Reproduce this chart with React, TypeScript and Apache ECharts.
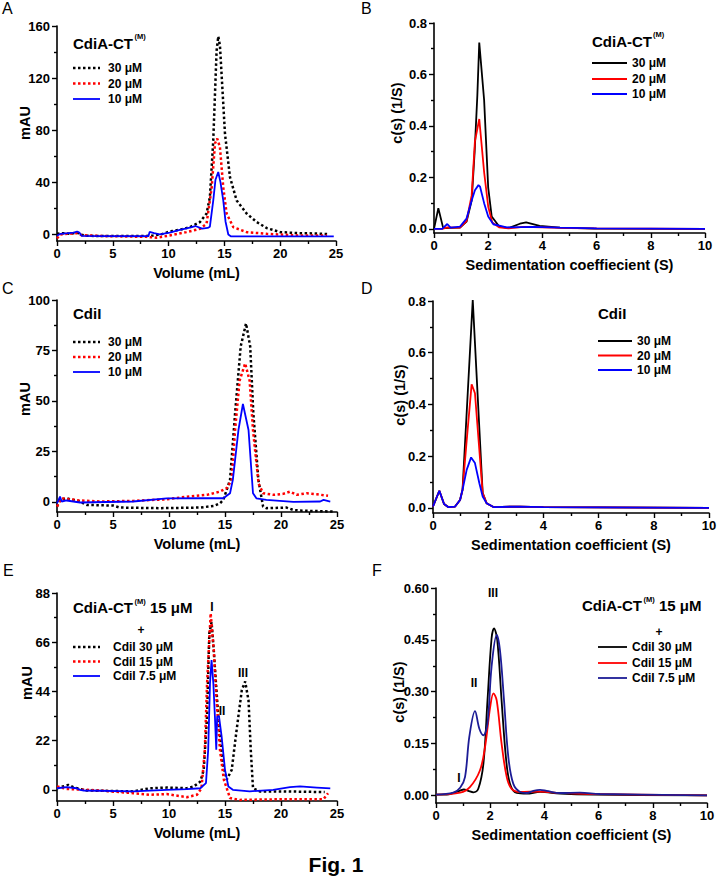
import React, { useEffect, useRef } from "react";
import * as echarts from "echarts";

const FONT = "'Liberation Sans', Arial, Helvetica, sans-serif";

// ---------------- tick values ----------------
const aYTicks = [0, 40, 80, 120, 160];
const aYMinor = [20, 60, 100, 140];
const bYTicks = [0, 0.2, 0.4, 0.6, 0.8];
const bYMinor = [0.1, 0.3, 0.5, 0.7];
const cYTicks = [0, 25, 50, 75, 100];
const cYMinor = [12.5, 37.5, 62.5, 87.5];
const dYTicks = [0, 0.2, 0.4, 0.6, 0.8];
const dYMinor = [0.1, 0.3, 0.5, 0.7];
const eYTicks = [0, 22, 44, 66, 88];
const eYMinor = [11, 33, 55, 77];
const fYTicks = [0, 0.15, 0.3, 0.45, 0.6];
const fYMinor = [0.075, 0.225, 0.375, 0.525];

// ---------------- legend labels ----------------
const concLabels = ["30 μM", "20 μM", "10 μM"];
const mixLabels = ["CdiI 30 μM", "CdiI 15 μM", "CdiI 7.5 μM"];

// ---------------- Panel A : SEC CdiA-CT(M) (volume mL, mAU) ----------------
const a30 = [[0,0.5],[0.6,1],[1.2,0.5],[1.8,1.5],[2.1,0],[2.6,-1],[4,-1.2],[6,-1.2],[8,-1.2],[8.6,-0.8],[9.3,0],[10.1,2.3],[11,3.6],[11.9,5.6],[12.8,9.5],[13.4,16],[13.7,28.7],[14.0,72],[14.3,141],[14.45,152],[14.6,145],[14.76,121],[15.05,77.5],[15.5,44],[16.1,26],[17.0,16],[17.9,9.5],[18.8,4.9],[20,1.8],[21.8,1],[23,0.8],[24.3,0.3]];
const a20 = [[0,-3],[0.3,0],[1,0.5],[1.8,1],[2.2,-0.5],[4,-1.2],[6,-1.5],[8,-1.8],[8.9,-2.5],[10.1,-0.8],[11.6,1.8],[12.8,4.3],[13.4,8.2],[13.86,36],[14.16,70],[14.36,73.6],[14.6,67],[14.9,36],[15.2,16],[15.8,5.6],[17,1.8],[18.8,0.5],[20,0],[21.8,-0.8],[24.2,-0.8]];
const a10 = [[0,-1],[0.3,0.5],[1,1],[1.5,1.5],[1.8,2.3],[2.0,1.5],[2.2,-1],[4,-1.2],[6,-1.3],[8.2,-1.2],[8.3,2],[8.7,1],[9.2,0],[10.1,1.5],[11,3.5],[12,5.5],[12.4,6.5],[13.0,4.5],[13.5,5],[13.7,6],[14.0,26],[14.2,42],[14.45,48],[14.65,40],[14.9,26],[15.1,10],[15.35,0],[15.6,-1.5],[20,-1.5],[24.8,-1.5]];

// ---------------- Panel B : c(s) CdiA-CT(M) ----------------
const b30 = [[0,0],[0.16,0.08],[0.34,0.003],[0.6,0.004],[0.96,0.005],[1.2,0.028],[1.39,0.11],[1.5,0.3],[1.6,0.52],[1.67,0.724],[1.85,0.5],[2.0,0.16],[2.13,0.048],[2.4,0.01],[2.75,0.003],[3.17,0.02],[3.4,0.025],[3.9,0.012],[4.65,0.005],[5.9,0.001],[10,0]];
const b20 = [[0,0],[0.3,0],[0.5,0.006],[0.96,0.005],[1.2,0.03],[1.39,0.13],[1.51,0.34],[1.67,0.427],[1.85,0.22],[2.0,0.087],[2.15,0.025],[2.4,0.006],[2.75,0.002],[3.3,0.008],[4,0.006],[5,0.003],[6,0.002],[10,0]];
const b10 = [[0,0],[0.3,0],[0.49,0.019],[0.61,0.005],[0.96,0.009],[1.2,0.04],[1.39,0.11],[1.51,0.15],[1.64,0.17],[1.7,0.164],[1.85,0.1],[2.0,0.048],[2.19,0.018],[2.68,0.006],[3.67,0.008],[4.65,0.005],[6,0.002],[10,0]];

// ---------------- Panel C : SEC CdiI ----------------
const c30 = [[0,-2.3],[0.27,1],[0.86,1.8],[2,0.2],[2.65,-1.5],[5,-1.8],[5.6,-2.8],[9.2,-3.1],[12.8,-2.8],[14,-2],[14.55,-0.7],[14.85,1],[15.45,10.9],[15.9,43.9],[16.4,77],[16.88,88.4],[17.25,77],[17.53,43.9],[17.98,10.9],[18.4,-2.3],[18.7,-3.1],[20.5,-2.8],[21.1,-4],[21.7,-4.3],[24.7,-4.8]];
const c20 = [[0,-2.3],[0.42,1.8],[0.86,1.5],[2.05,0.7],[3.84,0.2],[6.8,0.5],[9.8,1.3],[11.6,2.6],[13.4,3.5],[14.55,5.1],[15.15,6.8],[15.6,10.9],[15.9,35.6],[16.3,60],[16.8,68.6],[17.2,60],[17.5,35.6],[18,9],[18.4,4.3],[19.3,3.5],[20.2,4],[20.8,5.1],[21.4,3.5],[22.3,4.3],[23.2,3.8],[24.2,3]];
const c10 = [[0,-0.7],[0.27,2.6],[0.42,0.2],[0.86,0.7],[2.05,-0.3],[6.8,0.2],[9.8,1.7],[12.8,1.8],[14.85,1.8],[15.45,4.3],[15.7,10.9],[16.2,35.6],[16.6,48.5],[17.1,35.6],[17.5,4.3],[17.8,1.8],[18.7,1],[21.1,0],[23.5,0.2],[23.8,1],[24.4,0.2]];

// ---------------- Panel D : c(s) CdiI ----------------
const d30 = [[0,0.005],[0.23,0.066],[0.4,0.015],[0.55,0.003],[0.8,0.005],[0.98,0.03],[1.07,0.07],[1.44,0.804],[1.8,0.057],[1.94,0.018],[2.19,0.003],[3.15,0.005],[4,0.003],[10,0]];
const d20 = [[0,0.005],[0.23,0.066],[0.4,0.015],[0.55,0.003],[0.8,0.005],[0.98,0.03],[1.07,0.07],[1.22,0.26],[1.4,0.478],[1.52,0.443],[1.8,0.057],[1.94,0.018],[2.19,0.003],[3.15,0.005],[4,0.003],[10,0]];
const d10 = [[0,0.005],[0.23,0.066],[0.4,0.015],[0.55,0.003],[0.8,0.005],[0.98,0.03],[1.07,0.07],[1.22,0.147],[1.38,0.195],[1.52,0.173],[1.68,0.095],[1.8,0.044],[1.94,0.018],[2.19,0.003],[3.15,0.005],[4,0.003],[10,0]];

// ---------------- Panel E : SEC CdiA-CT(M) 15 µM + CdiI ----------------
const e30 = [[0,0.7],[1.0,2.2],[1.46,1.2],[2.05,0.4],[2.65,-0.3],[6.8,-0.7],[8.3,0.7],[9.8,1],[11.6,0.7],[12.2,1.5],[12.8,3.7],[13.1,8.9],[13.4,32.7],[13.6,70],[13.8,75],[14.0,62],[14.4,32.7],[14.8,11.9],[15.15,4.5],[15.6,8.9],[16.0,25.3],[16.5,44.6],[16.8,48.4],[17.1,40],[17.3,17.9],[17.5,0.7],[18.1,-0.7],[20.2,-0.7],[23.9,-1]];
const e15 = [[0,1.5],[0.86,0.4],[3.84,-0.3],[6.8,-1.5],[8.3,-2.2],[9.8,-1.9],[11.6,-3.3],[12.5,-2.2],[12.9,0.7],[13.2,17.9],[13.4,47.6],[13.72,78.9],[14.0,62.5],[14.25,40],[14.55,17.9],[14.9,4.5],[15.45,-3.7],[16.3,-4.5],[20.2,-4.2],[23.8,-4.2],[24.2,-1.5]];
const e75 = [[0,0.7],[0.86,1.2],[1.76,0.7],[2.05,0],[2.4,-0.3],[6.8,-0.7],[9.8,0],[11.6,0.3],[12.8,0.7],[13.3,3],[13.5,17.9],[13.66,47.6],[13.8,58],[13.96,47.6],[14.1,32.7],[14.22,17.9],[14.3,32.7],[14.46,33],[14.7,23.8],[15,8.9],[15.3,1.5],[15.7,0],[17.2,-0.7],[19.3,0],[20.8,1.2],[21.7,1.5],[23.2,1],[24.4,0.6]];

// ---------------- Panel F : c(s) CdiA-CT(M) 15 µM + CdiI ----------------
const f30 = [[0,0.002],[0.4,0.002],[0.64,0.007],[0.89,0.014],[1.03,0.017],[1.19,0.013],[1.38,0.009],[1.56,0.019],[1.75,0.092],[1.9,0.275],[2.05,0.454],[2.14,0.483],[2.26,0.45],[2.42,0.275],[2.58,0.11],[2.73,0.034],[2.98,0.007],[3.35,0.005],[3.84,0.01],[4.58,0.005],[5.8,0.002],[10,0]];
const f15 = [[0,0.002],[0.89,0.008],[1.25,0.024],[1.62,0.072],[1.81,0.14],[2.0,0.256],[2.12,0.295],[2.24,0.275],[2.42,0.15],[2.61,0.053],[2.79,0.019],[3.1,0.01],[3.84,0.011],[4.58,0.007],[5.8,0.004],[10,0]];
const f75 = [[0,0.002],[0.64,0.008],[0.89,0.022],[1.07,0.053],[1.23,0.17],[1.44,0.244],[1.6,0.193],[1.75,0.174],[1.9,0.208],[2.05,0.372],[2.24,0.464],[2.36,0.42],[2.51,0.275],[2.67,0.11],[2.85,0.034],[3.1,0.01],[3.35,0.007],[3.59,0.013],[3.84,0.016],[4.08,0.013],[4.58,0.007],[5.31,0.008],[6.05,0.004],[10,0]];

// ---------------- styles ----------------
const BLACK = "#000000";
const RED = "#ff0000";
const BLUE = "#0000ff";
const NAVY = "#1c1c96";
const DOT = [2.5, 2.5];

type SeriesDef = { name: string; data: number[][]; color: string; dotted: boolean };
type Panel = {
  grid: { left: number; top: number; width: number; height: number };
  xMax: number; xInterval: number; xName: string;
  yMin: number; yMax: number; yTicks: number[]; yMinor: number[]; decimals: number;
  smooth: number | boolean;
  series: SeriesDef[];
};

const panels: Panel[] = [
  {
    grid: { left: 57, top: 26, width: 279, height: 215 },
    xMax: 25, xInterval: 5, xName: "Volume (mL)",
    yMin: -5, yMax: 160, yTicks: aYTicks, yMinor: aYMinor, decimals: 0, smooth: false,
    series: [
      { name: "A 30", data: a30, color: BLACK, dotted: true },
      { name: "A 20", data: a20, color: RED, dotted: true },
      { name: "A 10", data: a10, color: BLUE, dotted: false },
    ],
  },
  {
    grid: { left: 434, top: 23, width: 271, height: 210 },
    xMax: 10, xInterval: 2, xName: "Sedimentation coeffiecient (S)",
    yMin: -0.016, yMax: 0.8, yTicks: bYTicks, yMinor: bYMinor, decimals: 1, smooth: false,
    series: [
      { name: "B 30", data: b30, color: BLACK, dotted: false },
      { name: "B 20", data: b20, color: RED, dotted: false },
      { name: "B 10", data: b10, color: BLUE, dotted: false },
    ],
  },
  {
    grid: { left: 57, top: 300, width: 280, height: 212 },
    xMax: 25, xInterval: 5, xName: "Volume (mL)",
    yMin: -5, yMax: 100, yTicks: cYTicks, yMinor: cYMinor, decimals: 0, smooth: false,
    series: [
      { name: "C 30", data: c30, color: BLACK, dotted: true },
      { name: "C 20", data: c20, color: RED, dotted: true },
      { name: "C 10", data: c10, color: BLUE, dotted: false },
    ],
  },
  {
    grid: { left: 433, top: 301, width: 276, height: 212 },
    xMax: 10, xInterval: 2, xName: "Sedimentation coefficient (S)",
    yMin: -0.02, yMax: 0.8, yTicks: dYTicks, yMinor: dYMinor, decimals: 1, smooth: false,
    series: [
      { name: "D 30", data: d30, color: BLACK, dotted: false },
      { name: "D 20", data: d20, color: RED, dotted: false },
      { name: "D 10", data: d10, color: BLUE, dotted: false },
    ],
  },
  {
    grid: { left: 57, top: 593, width: 280, height: 208 },
    xMax: 25, xInterval: 5, xName: "Volume (mL)",
    yMin: -5, yMax: 88, yTicks: eYTicks, yMinor: eYMinor, decimals: 0, smooth: false,
    series: [
      { name: "E 30", data: e30, color: BLACK, dotted: true },
      { name: "E 15", data: e15, color: RED, dotted: true },
      { name: "E 7.5", data: e75, color: BLUE, dotted: false },
    ],
  },
  {
    grid: { left: 436, top: 588, width: 271, height: 215 },
    xMax: 10, xInterval: 2, xName: "Sedimentation coefficient (S)",
    yMin: -0.022, yMax: 0.6, yTicks: fYTicks, yMinor: fYMinor, decimals: 2, smooth: 0.35,
    series: [
      { name: "F 30", data: f30, color: BLACK, dotted: false },
      { name: "F 15", data: f15, color: RED, dotted: false },
      { name: "F 7.5", data: f75, color: NAVY, dotted: false },
    ],
  },
];

function txt(text: string, x: number, y: number, size: number, align = "left", weight = "bold", extra: any = {}) {
  return {
    type: "text", x, y, silent: true, ...extra,
    style: {
      text, fill: "#000", fontSize: size, fontWeight: weight, fontFamily: FONT,
      align, verticalAlign: "middle", textAlign: align, textVerticalAlign: "middle",
    },
  };
}

function legend(x1: number, x2: number, tx: number, rows: number[], labels: string[], defs: SeriesDef[]) {
  const out: any[] = [];
  rows.forEach((y, i) => {
    const d = defs[i];
    out.push({
      type: "line", silent: true,
      shape: { x1, y1: y, x2, y2: y },
      style: d.dotted
        ? { stroke: d.color, lineWidth: 2.5, lineDash: DOT }
        : { stroke: d.color, lineWidth: 1.8 },
    });
    out.push(txt(labels[i], tx, y, 12));
  });
  return out;
}

function buildOption() {
  const grid: any[] = [];
  const xAxis: any[] = [];
  const yAxis: any[] = [];
  const series: any[] = [];
  const axisLineStyle = { color: "#000", width: 1.6 };
  const tickStyle = { color: "#000", width: 1.4 };
  const labelStyle = { color: "#000", fontSize: 13, fontWeight: "bold", fontFamily: FONT };

  panels.forEach((p, i) => {
    grid.push({ ...p.grid, containLabel: false, outerBoundsMode: "none" });
    xAxis.push({
      type: "value", gridIndex: i, min: 0, max: p.xMax, interval: p.xInterval,
      axisLine: { show: true, onZero: false, lineStyle: axisLineStyle },
      axisTick: { show: true, length: 5, lineStyle: tickStyle },
      minorTick: { show: true, splitNumber: 2, length: 3, lineStyle: tickStyle },
      splitLine: { show: false }, minorSplitLine: { show: false },
      axisLabel: { ...labelStyle, margin: 6 },
      name: p.xName, nameLocation: "middle", nameGap: 24,
      nameTextStyle: { color: "#000", fontSize: 14.5, fontWeight: "bold", fontFamily: FONT },
    });
    const yMainIndex = yAxis.length;
    yAxis.push({
      type: "value", gridIndex: i, min: p.yMin, max: p.yMax, position: "left",
      axisLine: { show: true, onZero: false, lineStyle: axisLineStyle },
      axisTick: { show: true, length: 5, customValues: p.yTicks, lineStyle: tickStyle },
      axisLabel: {
        ...labelStyle, margin: 7, customValues: p.yTicks,
        formatter: (v: number) => v.toFixed(p.decimals),
      },
      splitLine: { show: false },
    });
    yAxis.push({
      type: "value", gridIndex: i, min: p.yMin, max: p.yMax, position: "left", offset: 0,
      axisLine: { show: false, onZero: false },
      axisTick: { show: true, length: 3, customValues: p.yMinor, lineStyle: tickStyle },
      axisLabel: { show: false },
      splitLine: { show: false },
    });
    p.series.forEach((s) => {
      series.push({
        type: "line", name: s.name, xAxisIndex: i, yAxisIndex: yMainIndex,
        data: s.data, showSymbol: false, symbol: "none", silent: true,
        smooth: p.smooth,
        lineStyle: s.dotted
          ? { color: s.color, width: 2.5, type: DOT, cap: "butt" }
          : { color: s.color, width: 1.8 },
      });
    });
  });

  const graphic: any[] = [
    // panel letters
    txt("A", 2, 8, 16, "left", "normal"),
    txt("B", 361, 8, 16, "left", "normal"),
    txt("C", 2, 288, 16, "left", "normal"),
    txt("D", 361, 288, 16, "left", "normal"),
    txt("E", 3, 570, 16, "left", "normal"),
    txt("F", 372, 570, 16, "left", "normal"),
    // y axis titles
    txt("mAU", 25, 123, 14.5, "center", "bold", { rotation: Math.PI / 2 }),
    txt("c(s) (1/S)", 397, 113, 14.5, "center", "bold", { rotation: Math.PI / 2 }),
    txt("mAU", 25, 399, 14.5, "center", "bold", { rotation: Math.PI / 2 }),
    txt("c(s) (1/S)", 400, 395, 14.5, "center", "bold", { rotation: Math.PI / 2 }),
    txt("mAU", 27, 683, 14.5, "center", "bold", { rotation: Math.PI / 2 }),
    txt("c(s) (1/S)", 399, 692, 14.5, "center", "bold", { rotation: Math.PI / 2 }),
    // legend titles
    txt("CdiA-CT", 73, 43, 15),
    txt("(M)", 134.5, 36, 7.5),
    txt("CdiA-CT", 592, 41, 15),
    txt("(M)", 653, 34, 7.5),
    txt("CdiI", 73, 313, 15),
    txt("CdiI", 598, 313, 15),
    txt("CdiA-CT", 73, 607, 15),
    txt("(M)", 134.5, 601, 7.5),
    txt("15 μM", 150, 607, 15),
    txt("+", 141, 630, 12, "center"),
    txt("CdiA-CT", 582, 605, 15),
    txt("(M)", 643.5, 599, 7.5),
    txt("15 μM", 659, 605, 15),
    txt("+", 659, 632, 12, "center"),
    // legends
    ...legend(73, 100, 108, [68, 83.5, 99], concLabels, panels[0].series),
    ...legend(592, 627, 632, [63, 79, 94], concLabels, panels[1].series),
    ...legend(73, 100, 108, [342, 357, 372], concLabels, panels[2].series),
    ...legend(598, 632, 637, [341, 355.5, 370], concLabels, panels[3].series),
    ...legend(73, 100, 113, [647, 661.5, 676], mixLabels, panels[4].series),
    ...legend(598, 627, 632, [647, 663, 678], mixLabels, panels[5].series),
    // peak annotations
    txt("I", 212, 607, 12, "center"),
    txt("II", 222, 711, 12, "center"),
    txt("III", 243, 673, 12, "center"),
    txt("III", 493, 593, 12, "center"),
    txt("II", 474, 683, 12, "center"),
    txt("I", 459, 778, 12, "center"),
    // figure caption
    txt("Fig. 1", 336, 864, 21, "center"),
  ];

  return {
    animation: false,
    backgroundColor: "#ffffff",
    textStyle: { fontFamily: FONT },
    grid, xAxis, yAxis, series, graphic,
  };
}

export default function App() {
  const ref = useRef<HTMLDivElement>(null);
  useEffect(() => {
    if (!ref.current) return;
    const chart = echarts.init(ref.current, null, { renderer: "svg" });
    chart.setOption(buildOption());
    return () => chart.dispose();
  }, []);
  return (
    <div
      ref={ref}
      style={{ position: "absolute", left: 0, top: 0, width: 717, height: 878, background: "#fff" }}
    />
  );
}
